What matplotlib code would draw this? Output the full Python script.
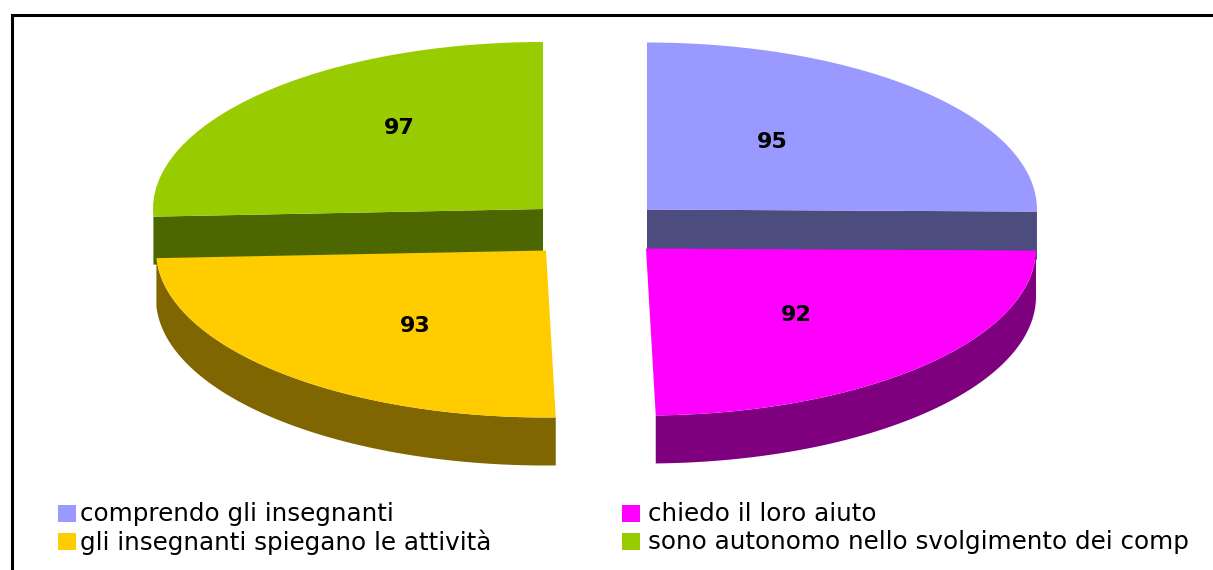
#!/usr/bin/env python3
"""Exploded pseudo-3D pie, built on ax.pie with the walls added by hand."""

import matplotlib
matplotlib.use("Agg")
import matplotlib.pyplot as plt
import numpy as np
from matplotlib.patches import Polygon, Rectangle

values = [95, 92, 93, 97]
labels = ["comprendo gli insegnanti", "chiedo il loro aiuto",
          "gli insegnanti spiegano le attività",
          "sono autonomo nello svolgimento dei comp"]
top_colors = ["#9999FF", "#FF00FF", "#FFCC00", "#99CC00"]
wall_colors = ["#4C4C7F", "#7F007F", "#7F6600", "#4C6600"]

W, H = 1213, 570
RX, RY = 390.0, 167.0
DEPTH = 48.0
# apex of every slice in image pixels, same order as values
apex_px = [(647, 209.5), (646, 248.5), (546, 250.5), (543, 209)]
value_pos_px = [(772, 142), (796, 315), (415, 326), (399, 128)]
swatch_px = [(58, 505), (622, 505), (58, 533), (622, 533)]
text_px = [(80, 514), (648, 514), (80, 542), (648, 542)]

plt.rcParams["font.family"] = ["DejaVu Sans"]

fig = plt.figure(figsize=(W / 100, H / 100), dpi=100)
ax = fig.add_axes([0, 0, 1, 1])
wedges, _ = ax.pie(values, colors=top_colors, startangle=90, counterclock=False,
                   wedgeprops={"linewidth": 0})
# pie is a flat circle until the axes is squashed: one data unit is RX by RY pixels
ax.set_aspect("auto")
ax.set_xlim(0, W / RX)
ax.set_ylim(0, H / RY)
ax.set_axis_off()


def to_data(x, y):
    return x / RX, (H - y) / RY


depth = DEPTH / RY
for i, w in enumerate(wedges):
    cx, cy = to_data(*apex_px[i])
    w.set_center((cx, cy))
    w.set_zorder(5)
    t = np.radians(np.linspace(w.theta1, w.theta2, 200))
    arc_x, arc_y = cx + np.cos(t), cy + np.sin(t)
    if i in (0, 3):
        # upper slices only show the cut face that looks at the viewer
        k = np.argmin(arc_y)
        quad = [(cx, cy), (arc_x[k], arc_y[k]), (arc_x[k], arc_y[k] - depth), (cx, cy - depth)]
        ax.add_patch(Polygon(quad, closed=True, fc=wall_colors[i], lw=0, zorder=1))
    else:
        band = np.r_[np.c_[arc_x, arc_y], np.c_[arc_x, arc_y - depth][::-1]]
        ax.add_patch(Polygon(band, closed=True, fc=wall_colors[i], lw=0, zorder=2))

for v, (x, y) in zip(values, value_pos_px):
    dx, dy = to_data(x, y)
    ax.text(dx, dy, str(v), ha="center", va="center", fontsize=16, fontweight="bold",
            color="black", zorder=6)

for i, lab in enumerate(labels):
    sx, sy = to_data(*swatch_px[i])
    ax.add_patch(Rectangle((sx, sy - 17 / RY), 18 / RX, 17 / RY, fc=top_colors[i], lw=0, zorder=6))
    tx, ty = to_data(*text_px[i])
    ax.text(tx, ty, lab, ha="left", va="center", fontsize=17.7, color="black", zorder=6)

# frame: only the top and left sides show
ax.plot(*zip(to_data(11.5, H), to_data(11.5, 14.5), to_data(W, 14.5)), color="black", lw=2.2,
        solid_joinstyle="miter", zorder=7)

fig.savefig("out.png", dpi=100, facecolor="white")
